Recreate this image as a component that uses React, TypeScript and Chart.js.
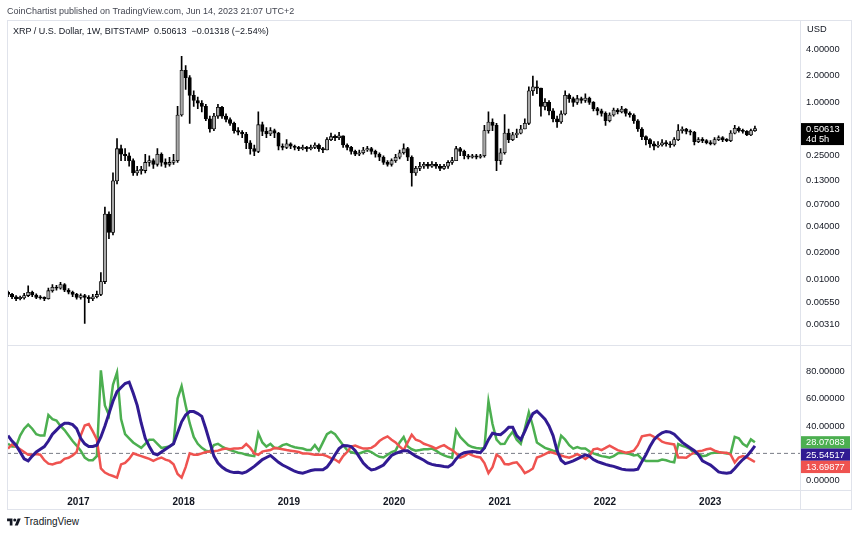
import React, { useEffect, useRef } from "react";
import { Chart, registerables } from "chart.js";

Chart.register(...registerables);

// ---------- DATA ----------
// Bi-weekly bars of XRP / USD (Bitstamp), first bar starting 2016-05-02
const START_DATE = Date.UTC(2016, 4, 2);
const BAR_STEP_DAYS = 14;
const FIRST_OPEN = 0.0072;

const CLOSE = [
  0.0068, 0.0064, 0.0061, 0.0062, 0.0066, 0.0072, 0.0067, 0.0063, 0.0062, 0.0061,
  0.0075, 0.0082, 0.008, 0.0088, 0.0076, 0.0072, 0.0068, 0.0063, 0.0066, 0.0063,
  0.0061, 0.0064, 0.0068, 0.0095, 0.055, 0.034, 0.13, 0.3, 0.26, 0.25,
  0.22, 0.16, 0.17, 0.17, 0.21, 0.22, 0.2, 0.26, 0.21, 0.2,
  0.21, 0.22, 0.72, 2.3, 1.9, 1.2, 1.05, 0.98, 0.9, 0.65,
  0.5, 0.7, 0.88, 0.7, 0.64, 0.58, 0.48, 0.46, 0.44, 0.35,
  0.3, 0.28, 0.56, 0.47, 0.44, 0.48, 0.45, 0.32, 0.31, 0.34,
  0.32, 0.31, 0.3, 0.31, 0.3, 0.31, 0.33, 0.3, 0.29, 0.38,
  0.41, 0.4, 0.42, 0.33, 0.31, 0.28, 0.26, 0.27, 0.29, 0.3,
  0.28, 0.26, 0.24, 0.21, 0.2, 0.22, 0.24, 0.27, 0.3, 0.24,
  0.16, 0.18, 0.19, 0.2, 0.19, 0.2, 0.19, 0.18, 0.19, 0.21,
  0.22, 0.3, 0.28, 0.25, 0.24, 0.25, 0.24, 0.25, 0.48, 0.6,
  0.55, 0.22, 0.27, 0.45, 0.38, 0.43, 0.45, 0.5, 0.58, 1.35,
  1.5, 1.45, 0.9, 1.0, 0.8, 0.65, 0.6, 0.74, 1.2, 1.1,
  1.0, 1.1, 1.05, 1.12, 1.0, 0.85, 0.8, 0.75, 0.62, 0.72,
  0.82, 0.78, 0.84, 0.75, 0.72, 0.62, 0.5, 0.41, 0.38, 0.34,
  0.32, 0.33, 0.35, 0.34, 0.33, 0.38, 0.48, 0.5, 0.47, 0.46,
  0.36, 0.38, 0.37, 0.35, 0.34, 0.38, 0.4, 0.38, 0.37, 0.45,
  0.51, 0.48, 0.47, 0.43, 0.48, 0.50613,
];

const HIGH = [
  0.0074, 0.007, 0.0066, 0.0065, 0.007, 0.0085, 0.0074, 0.0069, 0.0066, 0.0064,
  0.008, 0.0088, 0.0086, 0.0093, 0.009, 0.0079, 0.0074, 0.007, 0.0069, 0.0068,
  0.0066, 0.0068, 0.0074, 0.012, 0.066, 0.058, 0.16, 0.39, 0.33, 0.3,
  0.27, 0.23, 0.19, 0.19, 0.26, 0.25, 0.23, 0.3, 0.27, 0.23,
  0.24, 0.26, 0.9, 3.3, 2.6, 2.0, 1.35, 1.15, 1.05, 0.95,
  0.7, 0.75, 0.95, 0.9, 0.74, 0.67, 0.6, 0.52, 0.48, 0.46,
  0.37, 0.33, 0.78, 0.6, 0.52, 0.52, 0.5, 0.46, 0.34, 0.38,
  0.35, 0.33, 0.32, 0.33, 0.32, 0.33, 0.35, 0.34, 0.31, 0.4,
  0.45, 0.43, 0.46, 0.42, 0.34, 0.32, 0.29, 0.29, 0.31, 0.32,
  0.31, 0.29, 0.27, 0.25, 0.22, 0.23, 0.26, 0.29, 0.34, 0.31,
  0.25, 0.19, 0.21, 0.21, 0.21, 0.215, 0.21, 0.2, 0.2, 0.22,
  0.24, 0.32, 0.31, 0.29, 0.26, 0.26, 0.26, 0.26, 0.55, 0.78,
  0.65, 0.58, 0.3, 0.73, 0.5, 0.46, 0.5, 0.55, 0.65, 1.5,
  1.98, 1.75, 1.45, 1.1, 1.05, 0.85, 0.7, 0.8, 1.35, 1.25,
  1.15, 1.2, 1.15, 1.25, 1.15, 1.02, 0.88, 0.84, 0.78, 0.76,
  0.86, 0.85, 0.9, 0.85, 0.78, 0.74, 0.64, 0.52, 0.42, 0.39,
  0.36, 0.36, 0.38, 0.37, 0.36, 0.4, 0.56, 0.53, 0.51, 0.49,
  0.47, 0.4, 0.4, 0.38, 0.37, 0.4, 0.42, 0.41, 0.39, 0.48,
  0.55, 0.53, 0.5, 0.48, 0.5, 0.54,
];

const LOW = [
  0.0064, 0.0061, 0.0058, 0.0059, 0.006, 0.0064, 0.0064, 0.0061, 0.006, 0.0058,
  0.006, 0.0072, 0.0076, 0.0078, 0.0073, 0.0069, 0.0064, 0.006, 0.006, 0.0032,
  0.0055, 0.0058, 0.0062, 0.0066, 0.009, 0.029, 0.032, 0.12, 0.22, 0.22,
  0.19, 0.15, 0.15, 0.155, 0.16, 0.19, 0.18, 0.19, 0.19, 0.185,
  0.19, 0.2, 0.21, 0.7, 1.4, 0.58, 0.9, 0.85, 0.78, 0.62,
  0.46, 0.48, 0.66, 0.66, 0.6, 0.55, 0.45, 0.43, 0.4, 0.3,
  0.26, 0.25, 0.27, 0.42, 0.4, 0.42, 0.4, 0.29, 0.29, 0.3,
  0.3, 0.29, 0.285, 0.29, 0.28, 0.29, 0.3, 0.28, 0.27, 0.29,
  0.37, 0.37, 0.38, 0.31, 0.29, 0.26, 0.25, 0.25, 0.26, 0.28,
  0.26, 0.24, 0.22, 0.2, 0.19, 0.19, 0.21, 0.23, 0.26, 0.22,
  0.113, 0.15, 0.17, 0.18, 0.18, 0.185, 0.18, 0.17, 0.175, 0.18,
  0.2, 0.22, 0.25, 0.23, 0.23, 0.235, 0.23, 0.235, 0.24, 0.45,
  0.48, 0.17, 0.2, 0.26, 0.35, 0.37, 0.4, 0.44, 0.5, 0.56,
  1.2, 1.25, 0.7, 0.82, 0.72, 0.6, 0.52, 0.58, 0.72, 1.0,
  0.9, 0.95, 0.98, 1.0, 0.95, 0.8, 0.72, 0.7, 0.55, 0.6,
  0.7, 0.74, 0.76, 0.7, 0.68, 0.58, 0.47, 0.38, 0.33, 0.31,
  0.29, 0.31, 0.32, 0.32, 0.31, 0.32, 0.37, 0.45, 0.44, 0.43,
  0.33, 0.35, 0.35, 0.34, 0.33, 0.33, 0.37, 0.36, 0.36, 0.36,
  0.44, 0.46, 0.45, 0.42, 0.42, 0.47,
];

// DMI (+DI green, -DI red, ADX navy)
const PLUS_DI = [
  27, 25, 25, 33, 38, 41, 38, 34, 33, 33,
  48, 45, 44, 40, 37, 33, 29, 25.7, 22, 17,
  15, 15, 18, 80.5, 55, 48, 70, 79, 45, 34,
  31, 28, 26, 24, 27, 30, 30, 27, 24, 24.5,
  25, 27, 60, 69, 55, 42, 32, 27, 24, 22,
  21.3, 26, 27, 25, 23.5, 22.5, 21.5, 20.5, 20, 19,
  18.5, 18, 34.7, 28, 25, 27, 24, 24, 26, 26.8,
  25.5, 24.5, 24, 23.5, 22.5, 22.4, 26, 22, 28, 34,
  35.8, 34, 30, 26, 22.4, 21, 20.1, 20, 21, 22,
  21, 19, 17.5, 17, 19, 21, 22, 28, 32, 25,
  23, 22, 22.4, 23, 23, 23.5, 22, 20, 18.5, 17.5,
  16.8, 37, 32, 29, 26, 24.6, 24, 23.5, 24, 58,
  41.4, 30, 26.8, 27, 32, 35.8, 30, 27, 38, 50,
  40, 28, 26, 24, 23, 22, 21.3, 32.9, 30, 26,
  23.5, 24.6, 23.5, 23.5, 21.5, 20, 19, 18, 17.5, 16.8,
  18, 20, 20.5, 20.1, 19.5, 18.5, 19, 16, 14.5, 14.5,
  14.5, 14.5, 15.5, 15, 14, 13.5, 26.8, 25.5, 24.6, 23,
  20, 19.5, 18, 18.5, 20, 20.5, 20.5, 20.5, 20, 20,
  32, 31, 27, 25, 30.2, 28.07083,
];

const MINUS_DI = [
  23.5, 26.5, 25, 23, 21, 19, 19, 19.5, 19, 15,
  12.5, 12, 13, 13.5, 16, 16.8, 18.5, 21, 33, 40.3,
  41.4, 36, 30.2, 9, 6, 4.5, 3.5, 2.3, 12, 13,
  16, 20.1, 19, 18, 17, 16, 14.5, 16, 17, 15.5,
  14.5, 12, 5, 2.3, 10, 20, 19, 19, 20, 21,
  21.3, 21.5, 22, 23, 23.5, 23, 23.5, 23.5, 24, 26.8,
  24, 20, 19, 21.3, 22, 22.4, 24, 23.5, 23, 22.4,
  22, 21.5, 21, 20, 20, 19.5, 19, 19, 19, 18,
  16.5, 15.5, 13.5, 18, 21, 25, 25.7, 24.5, 23.5, 23.5,
  24, 26, 29, 31, 32.4, 30, 28, 25, 22.4, 28,
  33.6, 30, 29, 27, 26, 25, 23.5, 25, 26, 24,
  22.4, 20, 16.8, 18, 20, 18.5, 17.5, 17, 13, 5.6,
  10, 19, 17, 12.3, 12, 13, 13.5, 10, 5.6, 7,
  9, 17, 18, 19.5, 21, 20.5, 19.5, 18.5, 17.5, 16.8,
  18, 19.5, 18, 16, 18, 23, 23.5, 22.4, 24, 25.7,
  24, 22.4, 21.5, 20.5, 21, 22, 26, 32.4, 33, 33.6,
  32, 31, 28.5, 27.5, 27, 26.5, 17, 17, 16.8, 19,
  20.5, 21.5, 22, 23, 23.5, 22, 21, 20.5, 20.5, 19,
  13.4, 17, 18, 17, 15.5, 13.69877,
];

const ADX = [
  33, 29, 26, 21, 16, 14.5, 18, 21, 23, 25,
  29, 34, 37, 40, 42, 42, 41, 38, 31, 27,
  25, 25, 26, 32, 40, 49, 58, 65, 68, 71,
  72, 64, 55, 42, 31, 25, 20, 19, 21, 23,
  25, 27, 35, 43, 48, 50.5, 50.5, 49, 47, 38,
  28, 18, 13, 10, 8, 6.7, 6, 6.2, 5.6, 6.5,
  8.5, 10.5, 13, 15.5, 17, 18.5, 16, 13.5, 11.5, 10.1,
  8.5, 7, 6, 5.6, 6.5, 7.5, 8, 8, 8, 10,
  14, 19, 23.5, 25.7, 25.5, 25, 22, 17.5, 13, 10,
  7.9, 8.5, 10, 11.5, 15, 18.5, 20, 21, 22, 22,
  20, 18, 16.5, 15, 13, 12, 11.3, 11, 10.5, 10.1,
  12, 16, 19, 20.5, 21, 21.3, 21, 20.5, 24, 30,
  34.7, 34, 33.6, 36, 39, 39, 33, 30, 36, 43,
  49, 50.8, 48, 45, 40, 33, 22, 15, 12.5, 13.5,
  14.5, 16, 17.5, 19, 18, 15.5, 14, 13, 12, 11.2,
  10.5, 9.5, 8.5, 8, 7.9, 7.9, 8.5, 14, 19, 25,
  30, 33, 35, 36, 35.5, 34, 31, 28, 26, 24,
  22, 19, 14.5, 13, 11.5, 9, 6.5, 5.8, 5.6, 6,
  9, 12.5, 15.5, 18, 21.5, 25.54517,
];

const DMI_KEY_LEVEL = 20;

const PRICE_TICKS = [4, 2, 1, 0.25, 0.13, 0.07, 0.04, 0.02, 0.01, 0.0055, 0.0031];
const DMI_TICKS = [80, 60, 40, 0];
const YEAR_TICKS = [2017, 2018, 2019, 2020, 2021, 2022, 2023];

const HEADER = "CoinChartist published on TradingView.com, Jun 14, 2023 21:07 UTC+2";
const SYMBOL_LINE = "XRP / U.S. Dollar, 1W, BITSTAMP  0.50613  \u22120.01318 (\u22122.54%)";
const CURRENCY = "USD";
const COUNTDOWN = "4d 5h";

// ---------- LAYOUT / STYLE ----------
const DAY = 86400000;
const X_MIN = Date.UTC(2016, 3, 28, 12);
const X_MAX = X_MIN + 2749.8 * DAY;
const FONT = "'Liberation Sans', Arial, sans-serif";
const TEXT = "#131722";
const GREEN = "#4caf50";
const RED = "#ef5350";
const NAVY = "#311b92";
const AXIS_W = 52;

const times = CLOSE.map((_, i) => START_DATE + i * BAR_STEP_DAYS * DAY);

const fixedY = (scale: any) => {
  scale.width = AXIS_W;
};

export default function App() {
  const topRef = useRef<HTMLCanvasElement>(null);
  const botRef = useRef<HTMLCanvasElement>(null);

  useEffect(() => {
    const opens = CLOSE.map((_, i) => (i === 0 ? FIRST_OPEN : CLOSE[i - 1]));
    const bodies = CLOSE.map((c, i) => ({
      x: times[i],
      y: [Math.min(opens[i], c), Math.max(opens[i], c)],
    }));
    const wicks = CLOSE.map((c, i) => ({
      x: times[i],
      y: [Math.min(LOW[i], opens[i], c), Math.max(HIGH[i], opens[i], c)],
    }));
    const bodyFill = CLOSE.map((c, i) => (c >= opens[i] ? "#a8a8a8" : "#000000"));

    const priceTag = {
      id: "priceTag",
      afterDraw(chart: any) {
        const ctx = chart.ctx;
        const last = CLOSE[CLOSE.length - 1];
        const y = chart.scales.y.getPixelForValue(last);
        const x0 = chart.chartArea.right;
        ctx.save();
        ctx.fillStyle = "#000000";
        ctx.fillRect(x0 + 1, y - 5.5, 43, 22);
        ctx.fillStyle = "#ffffff";
        ctx.font = `9.3px ${FONT}`;
        ctx.textBaseline = "middle";
        ctx.textAlign = "left";
        ctx.fillText(last.toFixed(5), x0 + 6, y + 0.5);
        ctx.fillText(COUNTDOWN, x0 + 6, y + 10.5);
        ctx.restore();
      },
    };

    const top = new Chart(topRef.current!, {
      type: "bar",
      data: {
        datasets: [
          {
            data: bodies as any,
            backgroundColor: bodyFill,
            borderColor: "#000000",
            borderWidth: 0.8,
            borderSkipped: false,
            barThickness: 3.4,
            minBarLength: 1.2,
            grouped: false,
            order: 0,
          } as any,
          {
            data: wicks as any,
            backgroundColor: "#000000",
            borderWidth: 0,
            barThickness: 1,
            grouped: false,
            order: 1,
          } as any,
        ],
      },
      options: {
        responsive: false,
        animation: false,
        events: [],
        layout: { padding: { left: 7, right: 8, top: 20, bottom: 0 } },
        plugins: { legend: { display: false }, tooltip: { enabled: false } },
        scales: {
          x: {
            type: "linear",
            min: X_MIN,
            max: X_MAX,
            offset: false,
            display: false,
          },
          y: {
            type: "logarithmic",
            position: "right",
            min: 0.00247,
            max: 8.5,
            grid: { display: false, drawTicks: false },
            border: { display: false },
            afterFit: fixedY,
            afterBuildTicks: (s: any) => {
              s.ticks = PRICE_TICKS.map((v) => ({ value: v }));
            },
            ticks: {
              autoSkip: false,
              padding: 6,
              color: TEXT,
              font: { family: FONT, size: 9.3 },
              callback: (v: any) => Number(v).toFixed(5),
            },
          },
        },
      },
      plugins: [priceTag],
    } as any);

    const dmiTags = {
      id: "dmiTags",
      afterDraw(chart: any) {
        const ctx = chart.ctx;
        const ys = chart.scales.y;
        const x0 = chart.chartArea.right;
        const items = [
          { v: PLUS_DI[PLUS_DI.length - 1], c: GREEN },
          { v: ADX[ADX.length - 1], c: NAVY },
          { v: MINUS_DI[MINUS_DI.length - 1], c: RED },
        ]
          .map((it) => ({ ...it, y: ys.getPixelForValue(it.v) }))
          .sort((a, b) => a.y - b.y);
        const h = 12.3;
        let prevBottom = -Infinity;
        ctx.save();
        ctx.font = `9.3px ${FONT}`;
        ctx.textBaseline = "middle";
        ctx.textAlign = "left";
        for (const it of items) {
          let t = it.y - h / 2;
          if (t < prevBottom) t = prevBottom;
          ctx.fillStyle = it.c;
          ctx.fillRect(x0 + 1, t, 49, h);
          ctx.fillStyle = "#ffffff";
          ctx.fillText(it.v.toFixed(5), x0 + 6, t + h / 2 + 0.5);
          prevBottom = t + h;
        }
        ctx.restore();
      },
    };

    const lineDs = (arr: number[], color: string, width: number, order: number) => ({
      type: "line",
      data: arr.map((v, i) => ({ x: times[i], y: v })),
      borderColor: color,
      borderWidth: width,
      pointRadius: 0,
      tension: 0,
      fill: false,
      order,
    });

    const bot = new Chart(botRef.current!, {
      type: "line",
      data: {
        datasets: [
          lineDs(ADX, NAVY, 3, 0),
          lineDs(MINUS_DI, RED, 2.5, 1),
          lineDs(PLUS_DI, GREEN, 2.5, 2),
          {
            type: "line",
            data: [
              { x: X_MIN, y: DMI_KEY_LEVEL },
              { x: X_MAX, y: DMI_KEY_LEVEL },
            ],
            borderColor: "#787b86",
            borderWidth: 1,
            borderDash: [4, 3],
            pointRadius: 0,
            order: 3,
          },
        ] as any,
      },
      options: {
        responsive: false,
        animation: false,
        events: [],
        layout: { padding: { left: 7, right: 8, top: 0, bottom: 1 } },
        plugins: { legend: { display: false }, tooltip: { enabled: false } },
        scales: {
          x: {
            type: "linear",
            min: X_MIN,
            max: X_MAX,
            grid: { display: false, drawTicks: false },
            border: { display: false },
            afterFit: (s: any) => {
              s.height = 20;
            },
            afterBuildTicks: (s: any) => {
              s.ticks = YEAR_TICKS.map((y) => ({ value: Date.UTC(y, 0, 1) }));
            },
            ticks: {
              autoSkip: false,
              maxRotation: 0,
              padding: 6,
              color: TEXT,
              font: { family: FONT, size: 10, weight: "bold" },
              callback: (v: any) => String(new Date(v).getUTCFullYear()),
            },
          },
          y: {
            type: "linear",
            position: "right",
            min: -6.7,
            max: 90.6,
            grid: { display: false, drawTicks: false },
            border: { display: false },
            afterFit: fixedY,
            afterBuildTicks: (s: any) => {
              s.ticks = DMI_TICKS.map((v) => ({ value: v }));
            },
            ticks: {
              autoSkip: false,
              padding: 6,
              color: TEXT,
              font: { family: FONT, size: 9.3 },
              callback: (v: any) => Number(v).toFixed(5),
            },
          },
        },
      },
      plugins: [dmiTags],
    } as any);

    return () => {
      top.destroy();
      bot.destroy();
    };
  }, []);

  const line = "#e0e3eb";
  return (
    <div
      style={{
        position: "absolute",
        left: 0,
        top: 0,
        width: 860,
        height: 535,
        background: "#ffffff",
        fontFamily: FONT,
        overflow: "hidden",
      }}
    >
      <canvas ref={topRef} width={860} height={345} style={{ position: "absolute", left: 0, top: 0 }} />
      <canvas ref={botRef} width={860} height={166} style={{ position: "absolute", left: 0, top: 345 }} />
      {/* frame */}
      <div style={{ position: "absolute", left: 7, top: 20, width: 845, height: 490, border: `1px solid ${line}`, boxSizing: "border-box", pointerEvents: "none" }} />
      <div style={{ position: "absolute", left: 800, top: 20, width: 1, height: 490, background: line }} />
      <div style={{ position: "absolute", left: 7, top: 345, width: 845, height: 1, background: line }} />
      <div style={{ position: "absolute", left: 7, top: 490, width: 845, height: 1, background: line }} />
      {/* texts */}
      <div style={{ position: "absolute", left: 7, top: 6, fontSize: 9, color: "#434651", whiteSpace: "pre" }}>{HEADER}</div>
      <div style={{ position: "absolute", left: 13, top: 26, fontSize: 9, color: TEXT, whiteSpace: "pre" }}>{SYMBOL_LINE}</div>
      <div style={{ position: "absolute", left: 807, top: 24, fontSize: 9.3, color: TEXT }}>{CURRENCY}</div>
      <div style={{ position: "absolute", left: 7, top: 516, display: "flex", alignItems: "center", gap: 3 }}>
        <svg width="14" height="10" viewBox="0 0 36 26">
          <path d="M14 22H7V11H0V4h14v18z" fill={TEXT} />
          <path d="M28 22h-8l7.5-18h8L28 22z" fill={TEXT} />
          <circle cx="20" cy="8" r="4" fill={TEXT} />
        </svg>
        <span style={{ fontSize: 10, color: TEXT }}>TradingView</span>
      </div>
    </div>
  );
}
